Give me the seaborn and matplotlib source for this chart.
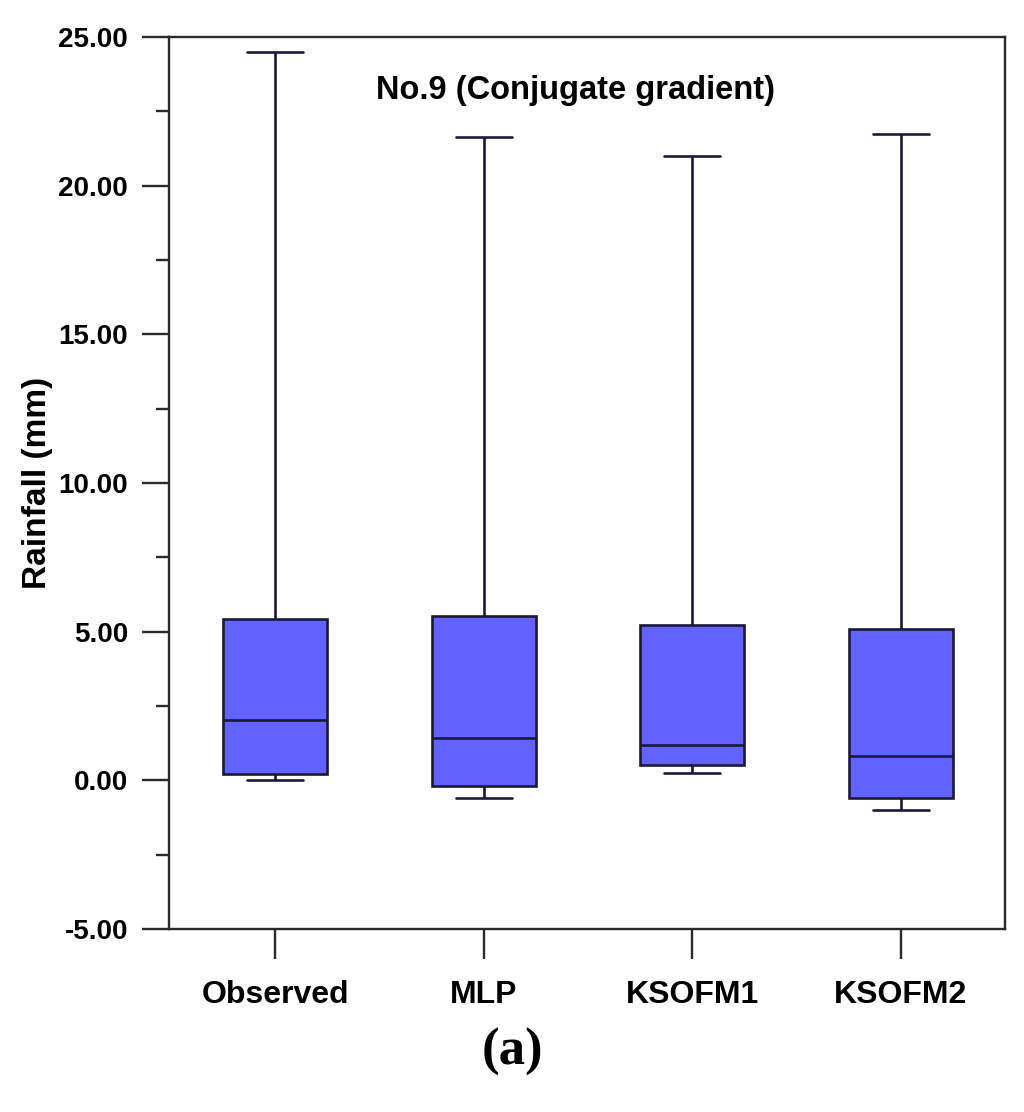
import numpy as np
import pandas as pd
import matplotlib
matplotlib.use("Agg")
import matplotlib.pyplot as plt
import seaborn as sns
from matplotlib.ticker import MultipleLocator, FormatStrFormatter

# ---- data (five-number summaries) ----
models = ["Observed", "MLP", "KSOFM1", "KSOFM2"]
# lower whisker, Q1, median, Q3, upper whisker
observed = [0.02, 0.21, 2.03, 5.43, 24.50]
mlp = [-0.59, -0.19, 1.42, 5.53, 21.64]
ksofm1 = [0.24, 0.51, 1.19, 5.22, 21.00]
ksofm2 = [-1.00, -0.59, 0.82, 5.09, 21.74]
yticks = [-5, 0, 5, 10, 15, 20, 25]
title = "No.9 (Conjugate gradient)"
ylabel = "Rainfall (mm)"
panel = "(a)"

df = pd.DataFrame({
    "Model": np.repeat(models, 5),
    "Rainfall": np.concatenate([observed, mlp, ksofm1, ksofm2]),
})

sns.set_style("ticks")
plt.rcParams["font.family"] = ["Liberation Sans", "DejaVu Sans"]
plt.rcParams["font.weight"] = "bold"
plt.rcParams["text.color"] = "black"
plt.rcParams["axes.labelcolor"] = "black"
plt.rcParams["xtick.labelcolor"] = "black"
plt.rcParams["ytick.labelcolor"] = "black"

fig = plt.figure(figsize=(10.24, 11.12), dpi=100)
ax = fig.add_axes([0.165, 0.1646, 0.8164, 0.8021])

sns.boxplot(
    data=df, x="Model", y="Rainfall", order=models,
    whis=(0, 100), width=0.5, color="#6262FF", saturation=1,
    linecolor="#1a1a38", linewidth=1.9, showfliers=False,
    capwidths=0.27, ax=ax,
)

ax.set_xlim(-0.51, 3.5)
ax.set_ylim(-5, 25)
ax.set_yticks(yticks)
ax.yaxis.set_minor_locator(MultipleLocator(2.5))
ax.yaxis.set_major_formatter(FormatStrFormatter("%.2f"))

ax.set_xlabel("")
ax.set_ylabel(ylabel, fontsize=24, fontweight="bold", labelpad=4, color="black")

for s in ax.spines.values():
    s.set_visible(True)
    s.set_linewidth(1.7)
    s.set_color("#2a2a2a")

ax.tick_params(axis="y", which="major", direction="out", length=19.5, width=1.7,
               color="#2a2a2a", pad=10, labelsize=20, labelcolor="black")
ax.tick_params(axis="y", which="minor", direction="out", length=9.5, width=1.7,
               color="#2a2a2a")
ax.tick_params(axis="x", which="major", direction="out", length=21.5, width=1.7,
               color="#2a2a2a", pad=15, labelsize=23, labelcolor="black")
for lab in ax.get_xticklabels() + ax.get_yticklabels():
    lab.set_fontweight("bold")

ax.text(0.486, 0.940, title, transform=ax.transAxes, ha="center", va="center",
        fontsize=23.5, fontweight="bold", color="black")

fig.text(0.5, 1 - 1052 / 1112, panel, ha="center", va="center", fontsize=38,
         fontweight="bold", family=["Liberation Serif", "DejaVu Serif"],
         color="black")

fig.savefig("out.png", dpi=100)
